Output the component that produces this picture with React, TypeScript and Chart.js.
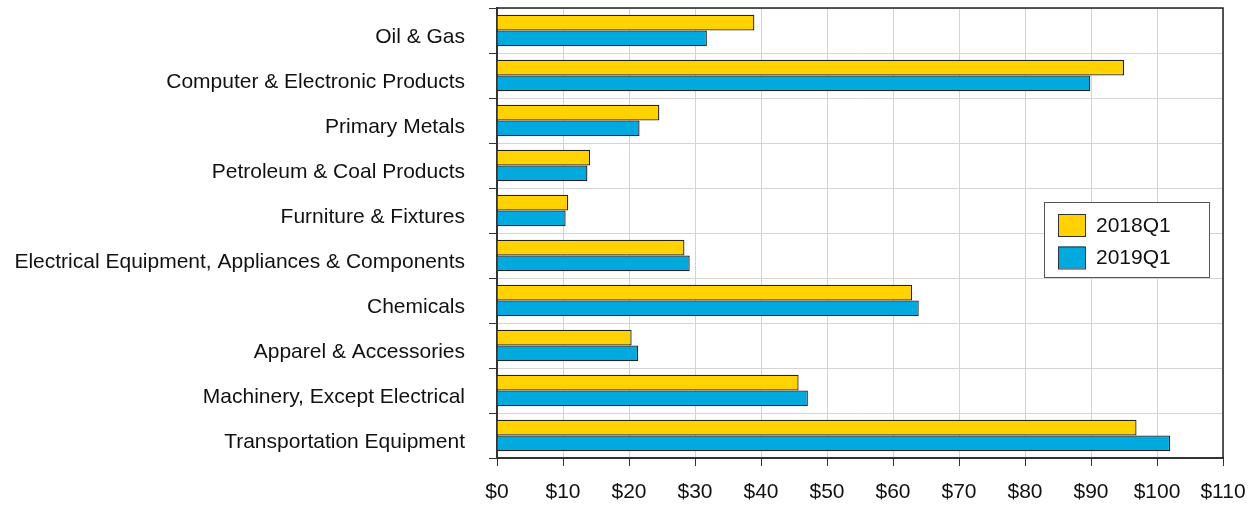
import React, { useEffect, useRef } from "react";
import { Chart, registerables } from "chart.js";

Chart.register(...registerables);

const categories = [
  "Oil & Gas",
  "Computer & Electronic Products",
  "Primary Metals",
  "Petroleum & Coal Products",
  "Furniture & Fixtures",
  "Electrical Equipment, Appliances & Components",
  "Chemicals",
  "Apparel & Accessories",
  "Machinery, Except Electrical",
  "Transportation Equipment",
];
const series2018Q1 = [39.0, 95.0, 24.6, 14.1, 10.8, 28.4, 62.9, 20.4, 45.7, 96.9];
const series2019Q1 = [31.8, 89.9, 21.6, 13.7, 10.4, 29.2, 63.9, 21.4, 47.1, 102.0];
const seriesNames = ["2018Q1", "2019Q1"];
const xMin = 0;
const xMax = 110;
const xStep = 10;

const YELLOW = "#FFD200";
const BLUE = "#00AADF";
const FONT = "'Liberation Sans', Arial, Helvetica, sans-serif";

const framePlugin = {
  id: "frameAndLegend",
  afterDraw(chart: any) {
    const { ctx, chartArea } = chart;
    ctx.save();
    // top and right frame
    ctx.strokeStyle = "#222";
    ctx.lineWidth = 1.5;
    ctx.beginPath();
    ctx.moveTo(chartArea.left, chartArea.top);
    ctx.lineTo(chartArea.right, chartArea.top);
    ctx.lineTo(chartArea.right, chartArea.bottom);
    ctx.stroke();

    // legend box
    const lx = 1044.5, ly = 202.5, lw = 165, lh = 75;
    ctx.fillStyle = "#fff";
    ctx.fillRect(lx, ly, lw, lh);
    ctx.strokeStyle = "#555";
    ctx.lineWidth = 1;
    ctx.strokeRect(lx, ly, lw, lh);
    const colors = [YELLOW, BLUE];
    const rows = [214, 246.5];
    ctx.font = `21px ${FONT}`;
    ctx.textBaseline = "middle";
    ctx.textAlign = "left";
    for (let i = 0; i < seriesNames.length; i++) {
      ctx.fillStyle = colors[i];
      ctx.fillRect(1058, rows[i], 27, 22);
      ctx.strokeStyle = "#333";
      ctx.lineWidth = 1;
      ctx.strokeRect(1058.5, rows[i] + 0.5, 27, 22);
      ctx.fillStyle = "#111";
      ctx.fillText(seriesNames[i], 1096, rows[i] + 12);
    }
    ctx.restore();
  },
};

export default function App() {
  const ref = useRef<HTMLCanvasElement | null>(null);
  useEffect(() => {
    if (!ref.current) return;
    const chart = new Chart(ref.current, {
      type: "bar",
      data: {
        labels: categories,
        datasets: [
          {
            label: seriesNames[0],
            data: series2018Q1,
            backgroundColor: YELLOW,
            borderColor: "#222",
            borderWidth: 1.3,
            categoryPercentage: 0.7,
            barPercentage: 1.0,
          },
          {
            label: seriesNames[1],
            data: series2019Q1,
            backgroundColor: BLUE,
            borderColor: "#222",
            borderWidth: 1.3,
            categoryPercentage: 0.7,
            barPercentage: 1.0,
          },
        ],
      },
      options: {
        indexAxis: "y",
        animation: false,
        responsive: false,
        maintainAspectRatio: false,
        layout: { padding: { left: 0, top: 8, right: 33, bottom: 0 } },
        plugins: {
          legend: { display: false },
          tooltip: { enabled: false },
          title: { display: false },
        },
        scales: {
          x: {
            type: "linear",
            min: xMin,
            max: xMax,
            ticks: {
              stepSize: xStep,
              color: "#111",
              font: { family: FONT, size: 21 },
              padding: 14,
              callback: (v: any) => "$" + v,
            },
            grid: {
              color: "#d4d4d4",
              lineWidth: 1,
              tickColor: "#333",
              tickLength: 8,
            },
            border: { color: "#333", width: 2 },
            afterFit: (scale: any) => {
              scale.height = 48;
              scale.paddingLeft = 0;
              scale.paddingRight = 0;
            },
          },
          y: {
            type: "category",
            ticks: {
              color: "#111",
              font: { family: FONT, size: 21 },
              padding: 24,
              labelOffset: 7,
              autoSkip: false,
            },
            grid: {
              offset: true,
              color: "#d4d4d4",
              lineWidth: 1,
              tickColor: "#333",
              tickLength: 8,
            },
            border: { color: "#333", width: 2 },
            afterFit: (scale: any) => {
              scale.width = 497;
              scale.paddingTop = 0;
              scale.paddingBottom = 0;
            },
          },
        },
      },
      plugins: [framePlugin],
    });
    return () => chart.destroy();
  }, []);
  return (
    <div style={{ position: "fixed", left: 0, top: 0, width: 1256, height: 506, background: "#fff" }}>
      <canvas ref={ref} width={1256} height={506} style={{ width: 1256, height: 506 }} />
    </div>
  );
}
